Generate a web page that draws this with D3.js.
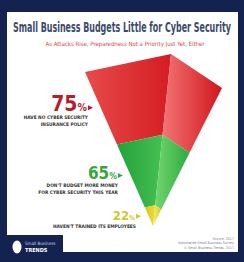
<!DOCTYPE html>
<html>
<head>
<meta charset="utf-8">
<script src="https://cdn.jsdelivr.net/npm/d3@7"></script>
<style>
body { margin: 0; background: #fff; }
svg { display: block; }
</style>
</head>
<body>
<script>
// chart text and values
var titleText = "Small Business Budgets Little for Cyber Security";
var subtitleText = "As Attacks Rise, Preparedness Not a Priority Just Yet, Either";
var shares = [75, 65, 22];
var shareLabels = [
    ["HAVE NO CYBER SECURITY", "INSURANCE POLICY"],
    ["DON'T BUDGET MORE MONEY", "FOR CYBER SECURITY THIS YEAR"],
    ["HAVEN'T TRAINED ITS EMPLOYEES"]
];
var sourceLines = ["Source: 2017", "Nationwide Small Business Survey", "© Small Business Trends, 2017"];
var logoLines = ["Small Business", "TRENDS"];

// styling
var navy = "#14224f";
var numberColors = ["#b41f2c", "#3aa63a", "#d2c72a"];
var numberSizes = [21, 17, 13];
var faceColors = [
    {left: ["#e84b4a", "#d41d23"], right: ["#f37474", "#d0161c"]},
    {left: ["#22a23b", "#45c052"], right: ["#74d56f", "#2aab3e"]},
    {left: ["#d8c81c", "#e8dc3a"], right: ["#f4ec78", "#d9cb22"]}
];
var condensed = "'Liberation Sans Narrow','DejaVu Sans Condensed',sans-serif";

var width = 244, height = 262;

var svg = d3.select("body").append("svg")
    .attr("width", width)
    .attr("height", height);

// frame
svg.append("rect").attr("width", width).attr("height", height).attr("fill", navy);
svg.append("rect")
    .attr("x", 7).attr("y", 12)
    .attr("width", 231).attr("height", 240)
    .attr("fill", "#ffffff");

// squeeze a centred text horizontally to a given width
function fitText(sel, cx, w){
    var len = sel.node().getComputedTextLength();
    var k = Math.min(1, w / len);
    sel.attr("x", 0)
        .attr("transform", "translate(" + cx + ",0) scale(" + k + ",1)");
}

// title
var title = svg.append("text")
    .attr("y", 32)
    .attr("text-anchor", "middle")
    .attr("font-family", condensed)
    .attr("font-weight", "bold")
    .attr("font-size", 13.5)
    .attr("fill", "#3b4a6a")
    .text(titleText);
fitText(title, 122, 218);

var subtitle = svg.append("text")
    .attr("y", 45.5)
    .attr("text-anchor", "middle")
    .attr("font-family", condensed)
    .attr("font-size", 6)
    .attr("fill", "#d8464c")
    .text(subtitleText);
fitText(subtitle, 125, 170);

// inverted pyramid: tip and the three rim corners
var tip = [153, 226],
    cornerL = [85, 72],
    cornerB = [171, 54],
    cornerR = [222, 88];

function at(corner, s){
    return [tip[0] + s * (corner[0] - tip[0]), tip[1] + s * (corner[1] - tip[1])];
}

// fill level scale (share -> fraction of pyramid height)
var levels = shares.slice().reverse();
var fill = d3.scaleLinear()
    .domain([0].concat(levels))
    .range([0, 0.12, 0.53, 1]);

var bands = shares.map(function(v, i){
    return {
        value: v,
        i: i,
        top: fill(v),
        bottom: i + 1 < shares.length ? fill(shares[i + 1]) : 0
    };
});

var defs = svg.append("defs");
bands.forEach(function(b){
    ["left", "right"].forEach(function(side){
        var g = defs.append("linearGradient")
            .attr("id", "g" + b.i + side)
            .attr("x1", 0).attr("y1", 0).attr("x2", 1).attr("y2", 0);
        g.append("stop").attr("offset", 0).attr("stop-color", faceColors[b.i][side][0]);
        g.append("stop").attr("offset", 1).attr("stop-color", faceColors[b.i][side][1]);
    });
});

var line = d3.line();
var pyramid = svg.append("g").attr("class", "pyramid");

bands.forEach(function(b){
    pyramid.append("path")
        .attr("d", line([at(cornerL, b.top), at(cornerB, b.top), at(cornerB, b.bottom), at(cornerL, b.bottom)]) + "Z")
        .attr("fill", "url(#g" + b.i + "left)");
    pyramid.append("path")
        .attr("d", line([at(cornerB, b.top), at(cornerR, b.top), at(cornerR, b.bottom), at(cornerB, b.bottom)]) + "Z")
        .attr("fill", "url(#g" + b.i + "right)");
});

// labels at the middle of each band, left of the left edge
var labels = svg.append("g").attr("class", "labels");
bands.forEach(function(b){
    var mid = at(cornerL, (b.top + b.bottom) / 2);
    var arrowX = mid[0] - 8,
        baseY = mid[1] + 3,
        right = arrowX - 6;

    labels.append("path")
        .attr("d", line([[arrowX - 5, baseY - 6], [arrowX, baseY - 3.5], [arrowX - 5, baseY - 1]]) + "Z")
        .attr("fill", numberColors[b.i]);

    var num = labels.append("text")
        .attr("x", right).attr("y", baseY)
        .attr("text-anchor", "end")
        .attr("font-family", condensed)
        .attr("font-weight", "bold")
        .attr("font-size", numberSizes[b.i])
        .attr("fill", numberColors[b.i]);
    num.append("tspan").text(b.value);
    num.append("tspan").attr("font-size", numberSizes[b.i] * 0.5).text("%");

    shareLabels[b.i].forEach(function(t, j){
        labels.append("text")
            .attr("x", right + 1).attr("y", baseY + 8 + j * 7)
            .attr("text-anchor", "end")
            .attr("font-family", condensed)
            .attr("font-weight", "bold")
            .attr("font-size", 4.8)
            .attr("fill", "#333333")
            .text(t);
    });
});

// logo box
svg.append("rect")
    .attr("x", 0).attr("y", 235)
    .attr("width", 63).attr("height", 27)
    .attr("fill", navy);
svg.append("ellipse")
    .attr("cx", 17).attr("cy", 247)
    .attr("rx", 4.5).attr("ry", 6.5)
    .attr("fill", "#ffffff");
svg.append("text")
    .attr("x", 25).attr("y", 245)
    .attr("font-family", condensed)
    .attr("font-size", 4.5)
    .attr("fill", "#c9d3ea")
    .text(logoLines[0]);
svg.append("text")
    .attr("x", 25).attr("y", 251.5)
    .attr("font-family", condensed)
    .attr("font-weight", "bold")
    .attr("font-size", 5.5)
    .attr("fill", "#ffffff")
    .text(logoLines[1]);

// source
svg.selectAll(".source")
    .data(sourceLines)
    .enter()
    .append("text")
    .attr("class", "source")
    .attr("x", 234)
    .attr("y", function(d, i){ return 240 + i * 4.3; })
    .attr("text-anchor", "end")
    .attr("font-family", condensed)
    .attr("font-size", 3.6)
    .attr("fill", "#7a7f8c")
    .text(function(d){ return d; });
</script>
</body>
</html>
